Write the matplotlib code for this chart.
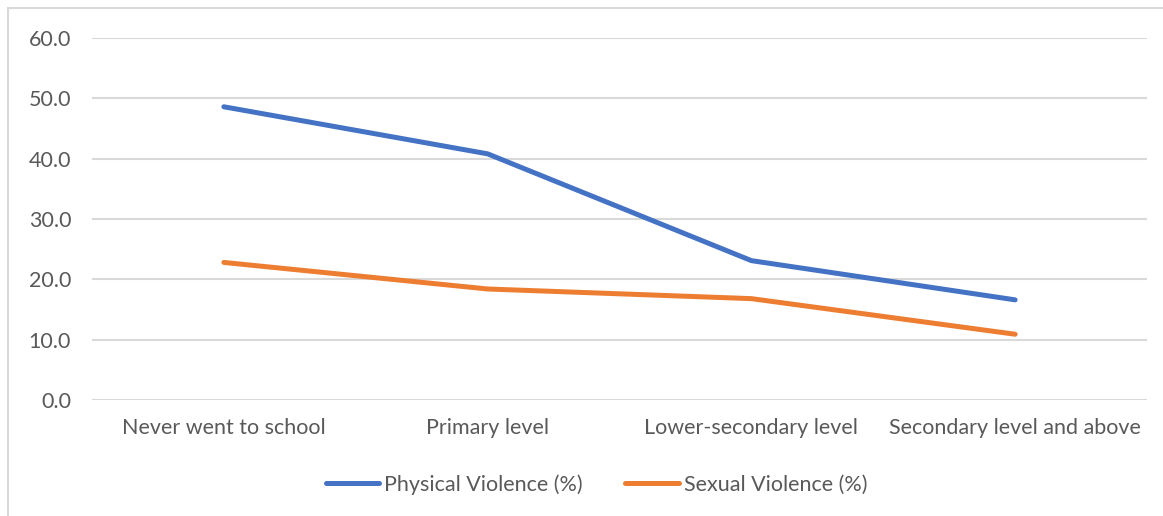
import matplotlib.pyplot as plt
from matplotlib.patches import Rectangle

categories = ["Never went to school", "Primary level", "Lower-secondary level", "Secondary level and above"]
physical = [48.6, 40.8, 23.1, 16.6]
sexual = [22.8, 18.4, 16.8, 10.9]
y_ticks = [0, 10, 20, 30, 40, 50, 60]

plt.rcParams["font.family"] = ["Lato", "DejaVu Sans"]

W, H = 1163, 516
fig = plt.figure(figsize=(W / 100, H / 100), dpi=100)

# outer chart frame (right/bottom edges cut off in the original)
fig.patches.append(Rectangle((8 / W, -0.1), 1.2, 1 - 8 / H + 0.1, transform=fig.transFigure,
                             facecolor="none", edgecolor="#D9D9D9", linewidth=1.5))

ax = fig.add_axes([92 / W, 1 - 400 / H, (1147 - 92) / W, (400 - 38) / H])
x = range(len(categories))

ax.plot(x, physical, color="#4472C4", linewidth=3.6, solid_capstyle="round",
        solid_joinstyle="round", label="Physical Violence (%)")
ax.plot(x, sexual, color="#ED7D31", linewidth=3.6, solid_capstyle="round",
        solid_joinstyle="round", label="Sexual Violence (%)")

ax.set_xlim(-0.5, len(categories) - 0.5)
ax.set_ylim(0, 60)
ax.set_yticks(y_ticks)
ax.set_yticklabels([f"{v:.1f}" for v in y_ticks])
ax.set_xticks(list(x))
ax.set_xticklabels(categories)
ax.tick_params(axis="both", length=0, labelsize=15.5, colors="#595959")
ax.tick_params(axis="y", pad=15)
ax.tick_params(axis="x", pad=13)

ax.grid(True, axis="y", color="#D9D9D9", linewidth=1.5)
ax.set_axisbelow(True)
for s in ax.spines.values():
    s.set_visible(False)

leg = ax.legend(loc="center", bbox_to_anchor=(0.478, -0.233), ncol=2, frameon=False,
                fontsize=15.5, handlelength=2.5, handletextpad=0.2, columnspacing=2.0,
                labelcolor="#595959")

fig.savefig("out.png", dpi=100)
